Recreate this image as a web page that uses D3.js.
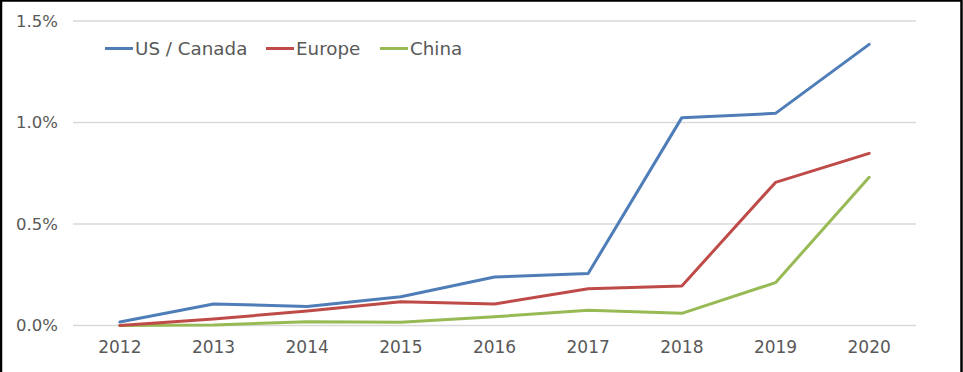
<!DOCTYPE html>
<html><head><meta charset="utf-8">
<script src="https://cdn.jsdelivr.net/npm/d3@7"></script>
<style>
html,body{margin:0;padding:0;background:#fff;}
svg{display:block;}
text{font-family:"DejaVu Sans","Noto Sans",sans-serif;fill:#595959;}
</style></head>
<body>
<svg id="c" width="963" height="372"></svg>
<script>
const years = ["2012","2013","2014","2015","2016","2017","2018","2019","2020"];
const usCanada = [0.017,0.106,0.094,0.142,0.239,0.256,1.024,1.045,1.385];
const europe   = [0.000,0.032,0.071,0.117,0.106,0.181,0.195,0.705,0.848];
const china    = [0.000,0.002,0.019,0.016,0.043,0.075,0.060,0.211,0.730];
const seriesNames = ["US / Canada","Europe","China"];
const seriesColors = ["#4F7DB8","#BE4B48","#98BA55"];
const yTicks = [0,0.5,1.0,1.5];

const FONT = "'DejaVu Sans','Noto Sans',sans-serif";
const FS = 17;
const svg = d3.select("#c");
const x = d3.scaleBand().domain(years).range([73,916]);
const y = d3.scaleLinear().domain([0,1.5]).range([325.5,21]);

// gridlines
svg.append("g").selectAll("line").data(yTicks).join("line")
  .attr("x1",73).attr("x2",916)
  .attr("y1",d=>y(d)).attr("y2",d=>y(d))
  .attr("stroke","#d9d9d9").attr("stroke-width",1.3);

// y axis labels
const yAxis = d3.axisLeft(y).tickValues(yTicks).tickSize(0).tickPadding(0)
  .tickFormat(d=>d.toFixed(1)+"%");
const gy = svg.append("g").attr("transform","translate(58,0)").call(yAxis);
gy.select(".domain").remove();
gy.selectAll("text").attr("font-size",16.5).attr("fill","#595959").style("font-family",FONT);

// x axis labels
const xAxis = d3.axisBottom(x).tickSize(0).tickPadding(0);
const gx = svg.append("g").attr("transform","translate(0,341)").call(xAxis);
gx.select(".domain").remove();
gx.selectAll("text").attr("font-size",FS).attr("fill","#595959").style("font-family",FONT);

const cx = d=>x(d)+x.bandwidth()/2;
const line = d3.line().x((d,i)=>cx(years[i])).y(d=>y(d));
const data = [usCanada,europe,china];
[2,1,0].forEach(i=>{
  svg.append("path").datum(data[i]).attr("d",line)
    .attr("fill","none").attr("stroke",seriesColors[i])
    .attr("stroke-width",3).attr("stroke-linejoin","round").attr("stroke-linecap","round");
});

// legend
const legX = [105,266,380];
seriesNames.forEach((n,i)=>{
  const g = svg.append("g").attr("transform",`translate(${legX[i]},48.5)`);
  g.append("line").attr("x1",0).attr("x2",28).attr("y1",0).attr("y2",0)
    .attr("stroke",seriesColors[i]).attr("stroke-width",3);
  g.append("text").attr("x",30).attr("y",0).attr("dy","0.35em")
    .attr("font-size",18.3).style("font-family",FONT).text(n);
});

// border
svg.append("rect").attr("x",1).attr("y",0.5).attr("width",960.5).attr("height",380)
  .attr("fill","none").attr("stroke","#000").attr("stroke-width",2.5);
</script>
</body></html>
